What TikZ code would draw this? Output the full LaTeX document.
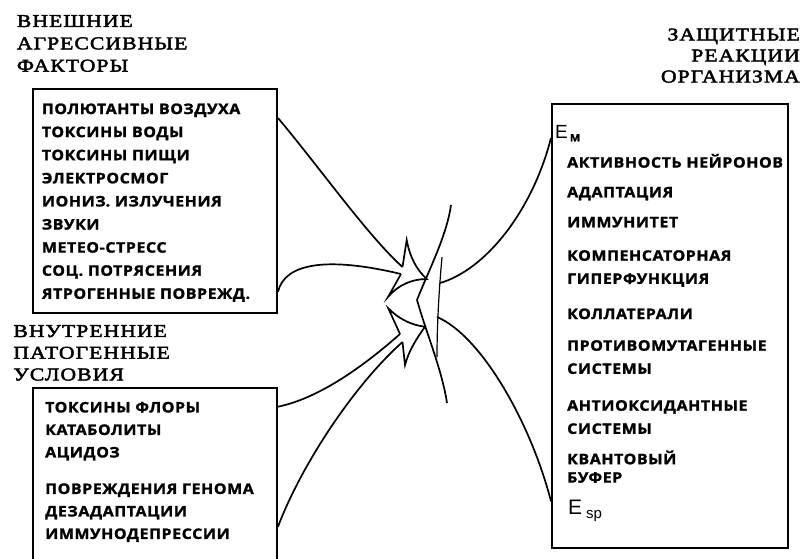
\documentclass[tikz,border=0pt]{standalone}
\usepackage{fontspec}
\setmainfont{Liberation Serif}
\newfontfamily\hdfont[FakeStretch=1.2, LetterSpace=6, FakeBold=2.5]{Liberation Serif}
\newfontfamily\bxfont[FakeStretch=1.1, LetterSpace=4, FakeBold=1.5]{Open Sans}
\newfontfamily\efont{Liberation Sans}
\usetikzlibrary{calc}
\begin{document}
\begin{tikzpicture}[x=1pt,y=-1pt,
  hd/.style={anchor=north west, inner sep=0, align=left, font=\hdfont\fontsize{18}{22.3}\selectfont},
  item/.style={anchor=north west, inner sep=0, align=left, font=\bxfont\bfseries\fontsize{14.5}{23.1}\selectfont},
  sym/.style={anchor=north west, inner sep=0, font=\efont\fontsize{19}{19}\selectfont},
  box/.style={draw, line width=1.8pt, inner sep=0, anchor=north west},
  link/.style={line width=1.7pt},
  shp/.style={line width=1.7pt, line join=miter}]
\clip (0,0) rectangle (805,558);
% headings
\node[hd] (h1) at (16.7,15) {ВНЕШНИЕ\\АГРЕССИВНЫЕ\\ФАКТОРЫ};
\node[hd, font=\hdfont\fontsize{18}{21.7}\selectfont] (h2) at (13.3,325) {ВНУТРЕННИЕ\\ПАТОГЕННЫЕ\\УСЛОВИЯ};
\node[hd, anchor=north east, align=right, font=\hdfont\fontsize{18}{21}\selectfont] (h3) at (800,28.3) {ЗАЩИТНЫЕ\\РЕАКЦИИ\\ОРГАНИЗМА};
% boxes
\node[box, minimum width=244.5pt, minimum height=223.4pt] (boxA) at (31.7,88.3) {};
\node[box, minimum width=244.5pt, minimum height=200pt] (boxB) at (31.7,386.7) {};
\node[box, minimum width=235.7pt, minimum height=443.4pt] (boxC) at (551,103.3) {};
% box A text
\node[item] (ta) at (41.7,103.3) {ПОЛЮТАНТЫ ВОЗДУХА\\ТОКСИНЫ ВОДЫ\\ТОКСИНЫ ПИЩИ\\ЭЛЕКТРОСМОГ\\ИОНИЗ. ИЗЛУЧЕНИЯ\\ЗВУКИ\\МЕТЕО-СТРЕСС\\СОЦ. ПОТРЯСЕНИЯ\\ЯТРОГЕННЫЕ ПОВРЕЖД.};
% box B text
\node[item, font=\bxfont\bfseries\fontsize{14.5}{22.5}\selectfont] (tb) at (45,401.7) {ТОКСИНЫ ФЛОРЫ\\КАТАБОЛИТЫ\\АЦИДОЗ\\[14pt]ПОВРЕЖДЕНИЯ ГЕНОМА\\ДЕЗАДАПТАЦИИ\\ИММУНОДЕПРЕССИИ};
% box C text
\node[sym] (em) at (555,125) {E\hspace{2pt}\raisebox{-3pt}{\bxfont\bfseries\fontsize{10}{10}\selectfont M}};
\node[item] (c1) at (567,153.7) {АКТИВНОСТЬ НЕЙРОНОВ};
\node[item] (c2) at (567,186.7) {АДАПТАЦИЯ};
\node[item] (c3) at (567,216.7) {ИММУНИТЕТ};
\node[item] (c4) at (567,250) {КОМПЕНСАТОРНАЯ\\ГИПЕРФУНКЦИЯ};
\node[item] (c5) at (567,308.3) {КОЛЛАТЕРАЛИ};
\node[item] (c6) at (567,340) {ПРОТИВОМУТАГЕННЫЕ\\СИСТЕМЫ};
\node[item] (c7) at (567,400) {АНТИОКСИДАНТНЫЕ\\СИСТЕМЫ};
\node[item, font=\bxfont\bfseries\fontsize{14.5}{18.4}\selectfont] (c8) at (567,450.3) {КВАНТОВЫЙ\\БУФЕР};
\node[sym, font=\efont\fontsize{21}{21}\selectfont] (esp) at (568,500) {E\hspace{4pt}\raisebox{-4pt}{\efont\fontsize{15}{15}\selectfont sp}};
% junction points
\coordinate (nA1) at (402.5,267);
\coordinate (nA2) at (401,274);
\coordinate (nB1) at (400,334);
\coordinate (nB2) at (402.5,342);
\coordinate (sM) at (440,283);
\coordinate (sS) at (437,317);
% connectors
\draw[link] ($(boxA.north east)+(0,29.7)$) .. controls (320,168) and (368,236) .. (nA1);
\draw[link] ($(boxA.north east)+(0,203.4)$) .. controls (285,262) and (330,257) .. (nA2);
\draw[link] ($(boxB.north east)+(0,20)$) .. controls (320,398) and (365,365) .. (nB1);
\draw[link] ($(boxB.north east)+(0,140)$) .. controls (300,468) and (352,387) .. (nB2);
\draw[link] ($(boxC.north west)+(0,34.7)$) .. controls (532,212) and (485,270) .. (sM);
\draw[link] (sS) .. controls (480,335) and (530,420) .. ($(boxC.north west)+(0,398)$);
% arrowheads
\draw[shp] (nA1) -- (406.7,240) .. controls (410,258) and (417,270) .. (426.7,279)
  .. controls (412,279) and (398,285) .. (388,297) -- (nA2);
\draw[shp] (nB1) -- (388.3,308.3) .. controls (398,318) and (410,325) .. (425,326.7)
  .. controls (417,338) and (409,350) .. (405,365) -- (nB2);
% shield
\draw[shp] (451,205) .. controls (447,235) and (428,272) .. (417,300)
  .. controls (427,335) and (442,370) .. (447,403);
\draw[line width=1.2pt] (442,257) .. controls (439,290) and (437,325) .. (437,357);
\end{tikzpicture}
\end{document}
